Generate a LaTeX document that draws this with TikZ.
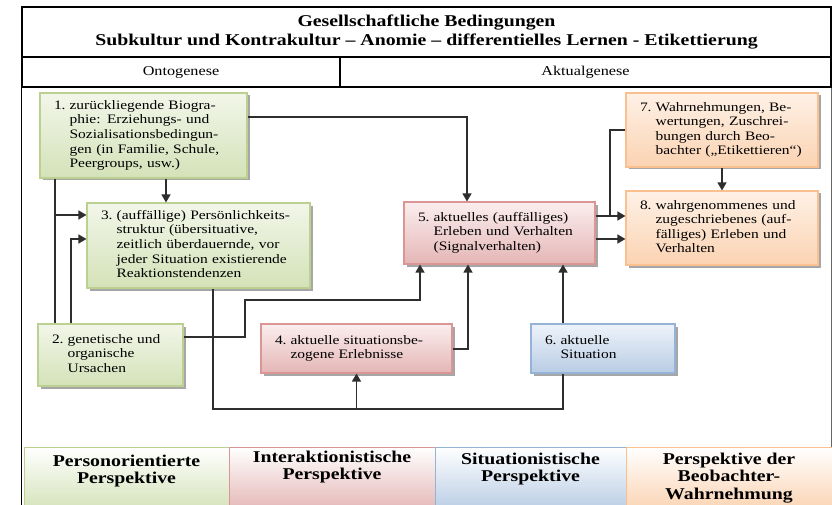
\documentclass[tikz,border=0pt]{standalone}
\usepackage{fontspec}
\setmainfont{Liberation Serif}[FakeStretch=1.2]
\usetikzlibrary{arrows.meta,shadows}
\definecolor{gtop}{HTML}{F2F6E9}
\definecolor{gbot}{HTML}{D4E2B8}
\definecolor{gline}{HTML}{BCD092}
\definecolor{rtop}{HTML}{FBEEEE}
\definecolor{rbot}{HTML}{E4B6B5}
\definecolor{rline}{HTML}{D99694}
\definecolor{btop}{HTML}{EEF3FA}
\definecolor{bbot}{HTML}{B8CCE4}
\definecolor{bline}{HTML}{95B3D7}
\definecolor{otop}{HTML}{FEF1E6}
\definecolor{obot}{HTML}{FBD3B2}
\definecolor{oline}{HTML}{FAC090}
\definecolor{conn}{HTML}{2E2E2E}
\newcommand\numtext[2]{#1\hspace{4pt}\begin{tabular}[t]{@{}l@{}}#2\end{tabular}}
\begin{document}
\begin{tikzpicture}[x=1pt,y=-1pt,
  box/.style={draw, line width=1.1pt, inner sep=0pt, align=left,
    drop shadow={shadow xshift=2.5pt, shadow yshift=-2.5pt, fill=black, opacity=0.35},
    font=\fontsize{12.9}{14.6}\selectfont},
  gbox/.style={box, draw=gline, top color=gtop, bottom color=gbot},
  rbox/.style={box, draw=rline, top color=rtop, bottom color=rbot},
  bbox/.style={box, draw=bline, top color=btop, bottom color=bbot},
  obox/.style={box, draw=oline, top color=otop, bottom color=obot},
  frame/.style={draw=black, line width=1.3pt},
  conline/.style={draw=conn, line width=1.3pt},
  arr/.style={conline, -{Triangle[length=8pt,width=9pt]}},
  pbox/.style={draw, line width=1pt, minimum height=64pt, inner sep=0pt},
  ptext/.style={align=center, font=\bfseries\fontsize{16.5}{17.5}\selectfont, inner sep=2pt}
]
\useasboundingbox (0,0) rectangle (832,505);
\clip (0,0) rectangle (832,505);

% header
\node[frame, minimum width=809pt, minimum height=50pt, inner sep=0pt, align=center,
  font=\bfseries\fontsize{16.5}{19}\selectfont] (title) at (426.5,32)
  {Gesellschaftliche Bedingungen\\Subkultur und Kontrakultur – Anomie – differentielles Lernen - Etikettierung};
\node[frame, minimum width=318pt, minimum height=30pt, inner sep=0pt,
  font=\fontsize{13.5}{15}\selectfont] (onto) at (181,72) {Ontogenese};
\node[frame, minimum width=491pt, minimum height=30pt, inner sep=0pt,
  font=\fontsize{13.5}{15}\selectfont] (aktual) at (585.5,72) {Aktualgenese};
\draw[frame] (onto.south west) -- ++(0,430);
\draw[draw=black!60, line width=1pt] (aktual.south east) -- ++(0,360);

% boxes
\node[gbox, minimum width=207pt, minimum height=85pt, text width=179pt] (b1) at (143.5,135.5)
  {\numtext{1.}{zurückliegende Biogra-\\phie: Erziehungs- und\\Sozialisationsbedingun-\\gen (in Familie, Schule,\\Peergroups, usw.)}};
\node[gbox, minimum width=223pt, minimum height=85pt, text width=195pt] (b3) at (198.5,245.5)
  {\numtext{3.}{(auffällige) Persönlichkeits-\\struktur (übersituative,\\zeitlich überdauernde, vor\\jeder Situation existierende\\Reaktionstendenzen}};
\node[gbox, minimum width=145pt, minimum height=62pt, text width=117pt] (b2) at (110.5,355)
  {\numtext{2.}{genetische und\\organische\\Ursachen}};
\node[rbox, minimum width=191pt, minimum height=49pt, text width=163pt] (b4) at (356.5,348.5)
  {\numtext{4.}{aktuelle situationsbe-\\zogene Erlebnisse}};
\node[bbox, minimum width=144pt, minimum height=49pt, text width=116pt] (b6) at (603,348.5)
  {\numtext{6.}{aktuelle\\Situation}};
\node[rbox, minimum width=191pt, minimum height=62pt, text width=163pt] (b5) at (499.5,233)
  {\numtext{5.}{aktuelles (auffälliges)\\Erleben und Verhalten\\(Signalverhalten)}};
\node[obox, minimum width=192pt, minimum height=74pt, text width=164pt] (b7) at (722,130)
  {\numtext{7.}{Wahrnehmungen, Be-\\wertungen, Zuschrei-\\bungen durch Beo-\\bachter („Etikettieren“)}};
\node[obox, minimum width=192pt, minimum height=74pt, text width=164pt] (b8) at (722,228)
  {\numtext{8.}{wahrgenommenes und\\zugeschriebenes (auf-\\fälliges) Erleben und\\Verhalten}};

% helper coordinates
\coordinate (p1) at (467,117);
\coordinate (p2) at (166,0);
\coordinate (p3) at (55,215);
\coordinate (p4) at (71,239);
\coordinate (p5) at (213,409);
\coordinate (p6) at (563,0);
\coordinate (p7) at (245,300);
\coordinate (p8) at (420,300);
\coordinate (p9) at (245,337);
\coordinate (p10) at (468,349);
\coordinate (p11) at (610,216);
\coordinate (p12) at (0,239);
\coordinate (p13) at (610,130);

% connectors
\draw[arr] (b1.east |- p1) -| (b5.north -| p1);
\draw[arr] (b1.south -| p2) -- (b3.north -| p2);
\draw[conline] (b1.south -| p3) -- (b2.north -| p3);
\draw[arr] (p3) -- (b3.west |- p3);
\draw[arr] (b2.north -| p4) |- (b3.west |- p4);
\draw[conline] (b3.south -| p5) -- (p5) -| (b6.south -| p6);
\draw[arr] (b4.south |- p5) -- (b4.south);
\draw[arr] (b2.east |- p9) -- (p9) -- (p7) -- (p8) -- (b5.south -| p8);
\draw[arr] (b4.east |- p10) -| (b5.south -| p10);
\draw[arr] (b6.north -| p6) -- (b5.south -| p6);
\draw[arr] (b5.east |- p11) -- (b8.west |- p11);
\draw[arr] (b5.east |- p12) -- (b8.west |- p12);
\draw[conline] (b7.west |- p13) -- (p13) -- (p11);
\draw[arr] (b7.south) -- (b8.north);

% perspectives
\node[pbox, draw=gline, top color=white, bottom color=gbot, minimum width=205pt] (pA) at (126.5,479) {};
\node[pbox, draw=rline, top color=white, bottom color=rbot, minimum width=206pt] (pB) at (332,479) {};
\node[pbox, draw=bline, top color=white, bottom color=bbot, minimum width=191pt] (pC) at (530.5,479) {};
\node[pbox, draw=oline, top color=white, bottom color=obot, minimum width=206pt] (pD) at (729,479) {};
\node[ptext, anchor=north] (tA) at ([yshift=-6pt]pA.north) {Personorientierte\\Perspektive};
\node[ptext, anchor=north] (tB) at ([yshift=-2pt]pB.north) {Interaktionistische\\Perspektive};
\node[ptext, anchor=north] (tC) at ([yshift=-4pt]pC.north) {Situationistische\\Perspektive};
\node[ptext, anchor=north] (tD) at ([yshift=-4pt]pD.north) {Perspektive der\\Beobachter-\\Wahrnehmung};
\end{tikzpicture}
\end{document}
